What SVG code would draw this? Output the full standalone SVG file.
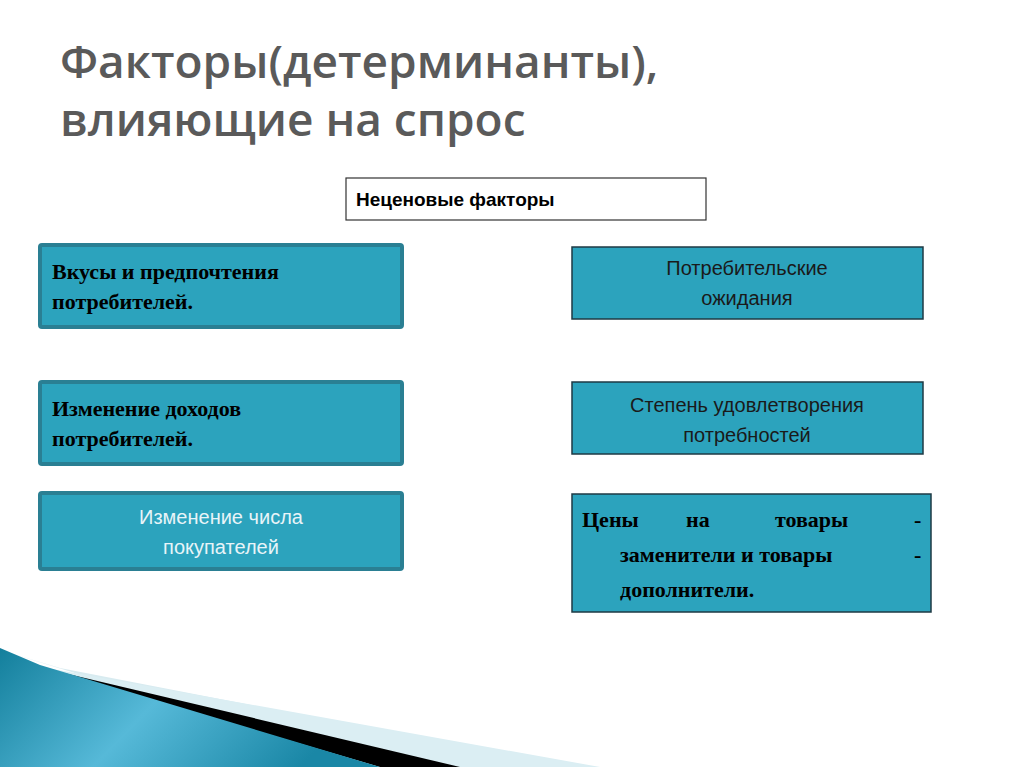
<svg xmlns="http://www.w3.org/2000/svg" width="1024" height="767" viewBox="0 0 1024 767">
<defs>
<style>
.tt{font-family:"Open Sans","DejaVu Sans",sans-serif;font-size:46px;fill:#5a5a5a;font-weight:600}
.lb{fill:#2ca3bd;stroke:#2a7f93;stroke-width:4}
.rb{fill:#2ca3bd;stroke:#1e3a44;stroke-width:1.5}
.se{font-family:"Liberation Serif",serif;font-weight:bold;font-size:22px;fill:#000}
.sa{font-family:"Liberation Sans",Arial,sans-serif;font-size:20px;fill:#1a1a1a;text-anchor:middle}
</style>
<linearGradient id="g" x1="0" y1="0" x2="1" y2="0.3">
<stop offset="0" stop-color="#137f9c"/><stop offset="0.5" stop-color="#56b9d8"/><stop offset="1" stop-color="#1a87a6"/>
</linearGradient>
</defs>
<rect width="1024" height="767" fill="#fff"/>
<text class="tt" x="60" y="78">Факторы(детерминанты),</text>
<text class="tt" x="60" y="136">влияющие на спрос</text>
<g id="bg-swoosh">
<polygon points="0,650 380,767 570,767 60,668" fill="#d8ebf0"/>
<polygon points="30,665 440,767 600,767" fill="#dbeef3"/>
<polygon points="30,665 380,767 460,767" fill="#000"/>
<polygon points="0,648 40,665 380,767 0,767" fill="url(#g)"/>
</g>
<g id="n-header"><rect x="346" y="178" width="360" height="42" fill="#fff" stroke="#333" stroke-width="1.2"/>
<text x="356" y="206" font-family="Liberation Sans,Arial,sans-serif" font-weight="bold" font-size="19" fill="#000">Неценовые факторы</text></g>
<g id="n-tastes"><rect class="lb" x="40" y="245" width="362" height="82" rx="2"/>
<text class="se" x="52" y="279">Вкусы и предпочтения</text><text class="se" x="52" y="309">потребителей.</text></g>
<g id="n-income"><rect class="lb" x="40" y="382" width="362" height="82" rx="2"/>
<text class="se" x="52" y="416">Изменение доходов</text><text class="se" x="52" y="446">потребителей.</text></g>
<g id="n-buyers"><rect class="lb" x="40" y="493" width="362" height="76" rx="2"/>
<text class="sa" x="221" y="524" fill="#e6f3f7" style="fill:#e8f4f8">Изменение числа</text><text class="sa" x="221" y="554" style="fill:#e8f4f8">покупателей</text></g>
<g id="n-expect"><rect class="rb" x="572" y="247" width="351" height="72"/>
<text class="sa" x="747" y="275">Потребительские</text><text class="sa" x="747" y="305">ожидания</text></g>
<g id="n-satisf"><rect class="rb" x="572" y="382" width="351" height="72"/>
<text class="sa" x="747" y="412">Степень удовлетворения</text><text class="sa" x="747" y="442">потребностей</text></g>
<g id="n-prices"><rect class="rb" x="572" y="494" width="359" height="118"/>
<text class="se" x="582" y="527">Цены</text><text class="se" x="686" y="527">на</text><text class="se" x="775" y="527">товары</text><text class="se" x="914" y="527">-</text>
<text class="se" x="620" y="562">заменители и товары</text><text class="se" x="914" y="562">-</text>
<text class="se" x="620" y="597">дополнители.</text></g>
<g id="connectors"/>
</svg>
